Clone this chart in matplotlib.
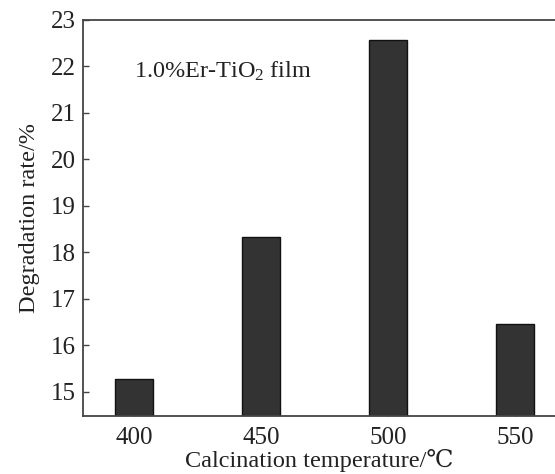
import matplotlib
matplotlib.use("Agg")
import matplotlib.pyplot as plt

temperatures = [400, 450, 500, 550]
rates = [15.28, 18.34, 22.56, 16.46]
yticks = [15, 16, 17, 18, 19, 20, 21, 22, 23]

plt.rcParams['font.family'] = ['Liberation Serif', 'DejaVu Serif']
plt.rcParams['mathtext.fontset'] = 'custom'
plt.rcParams['mathtext.rm'] = 'Liberation Serif'
plt.rcParams['mathtext.it'] = 'Liberation Serif:italic'

fig = plt.figure(figsize=(5.55, 4.74), dpi=100)
W, H = 555, 474
left, right, top, bottom = 83, 555, 20, 416
ax = fig.add_axes([left / W, 1 - bottom / H, (right - left) / W, (bottom - top) / H])

ax.bar(temperatures, rates, width=15, color='#333333', edgecolor='#111111', linewidth=1.0, zorder=2)

ax.set_xlim(380, 565.7)
ax.set_ylim(14.48, 23)
ax.set_xticks(temperatures)
ax.set_yticks(yticks)
ax.tick_params(direction='in', length=4, width=1, labelsize=18, pad=5)
ax.tick_params(axis='x', pad=8)
for s in ['left', 'top', 'bottom']:
    ax.spines[s].set_color('#444444')
    ax.spines[s].set_linewidth(1.3)
ax.spines['right'].set_visible(False)
ax.tick_params(axis='x', colors='#444444', labelcolor='#222222')
ax.tick_params(axis='y', colors='#444444', labelcolor='#222222')
for t in ax.get_xticklines():
    t.set_zorder(3)

ax.set_xlabel('Calcination temperature/℃', fontsize=17.5, color='#222222', labelpad=0)
ax.set_ylabel('Degradation rate/%', fontsize=17.5, color='#222222', labelpad=8)

ax.text(0.108, 0.855, '1.0%Er-TiO$_2$ film', transform=ax.transAxes, fontsize=17.5, color='#222222', ha='left', va='baseline')

fig.savefig('out.png', dpi=100)
